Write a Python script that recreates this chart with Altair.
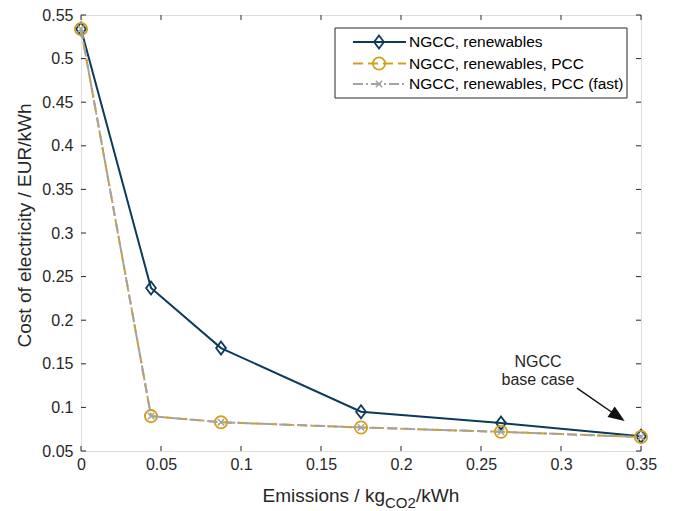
import altair as alt
import pandas as pd

# ---- data ----
emissions = [0.0, 0.04375, 0.0875, 0.175, 0.2625, 0.35]
cost_ren = [0.534, 0.237, 0.168, 0.095, 0.082, 0.067]
cost_pcc = [0.534, 0.090, 0.083, 0.077, 0.072, 0.066]
cost_fast = [0.534, 0.090, 0.083, 0.077, 0.072, 0.066]
series_names = ["NGCC, renewables", "NGCC, renewables, PCC", "NGCC, renewables, PCC (fast)"]
x_ticks = [0, 0.05, 0.1, 0.15, 0.2, 0.25, 0.3, 0.35]
y_ticks = [0.05, 0.1, 0.15, 0.2, 0.25, 0.3, 0.35, 0.4, 0.45, 0.5, 0.55]
annot_text = ["NGCC", "base case"]
annot_x = [0.2856, 0.2856]
annot_y = [0.1521, 0.1314]
arrow_start = [0.31, 0.1222]
arrow_head = [0.3345, 0.0910]

W, H = 560, 436
FONT = "Liberation Sans"
AX = "#262626"
NAVY = "#0b3a5a"
GOLD = "#d0a01c"
GRAY = "#a3a3a3"

xs = alt.Scale(domain=[0, 0.35], nice=False, zero=False)
ys = alt.Scale(domain=[0.05, 0.55], nice=False, zero=False)
xaxis = alt.Axis(values=x_ticks, format="~g", ticks=False, domain=False, grid=False, labelFlush=False,
                 labelFontSize=16, labelColor=AX, labelPadding=5, labelFont=FONT, title=None)
yaxis = alt.Axis(values=y_ticks, format="~g", ticks=False, domain=False, grid=False, labelFlush=False,
                 labelFontSize=16, labelColor=AX, labelPadding=8, labelFont=FONT,
                 title="Cost of electricity / EUR/kWh", titleFontSize=19, titleFont=FONT,
                 titleFontWeight="normal", titleColor=AX, titleX=-57, titleY=210,
                 titleAngle=-90, titleBaseline="middle", titleAlign="center")


def X(f):
    return alt.X(f, type="quantitative", scale=xs, axis=xaxis)


def Y(f):
    return alt.Y(f, type="quantitative", scale=ys, axis=yaxis)


def sdf(vals):
    return pd.DataFrame({"x": emissions, "y": vals, "o": list(range(len(vals)))})


layers = []

# tick marks (inward, all four sides)
ytk = pd.DataFrame({"y": y_ticks})
xtk = pd.DataFrame({"x": x_ticks})
layers.append(alt.Chart(ytk).mark_rule(color=AX, strokeWidth=1).encode(y=Y("y"), x=alt.value(0), x2=alt.value(5)))
layers.append(alt.Chart(ytk).mark_rule(color=AX, strokeWidth=1).encode(y=Y("y"), x=alt.value(W - 5), x2=alt.value(W)))
layers.append(alt.Chart(xtk).mark_rule(color=AX, strokeWidth=1).encode(x=X("x"), y=alt.value(H - 5), y2=alt.value(H)))
layers.append(alt.Chart(xtk).mark_rule(color=AX, strokeWidth=1).encode(x=X("x"), y=alt.value(0), y2=alt.value(5)))

# series
d1, d2, d3 = sdf(cost_ren), sdf(cost_pcc), sdf(cost_fast)
cross = "M-1,-1L1,1M-1,1L1,-1"
diamond = "M0,-1L0.75,0L0,1L-0.75,0Z"

layers.append(alt.Chart(d1).mark_line(color=NAVY, strokeWidth=2).encode(x=X("x"), y=Y("y"), order="o"))
layers.append(alt.Chart(d1).mark_point(shape=diamond, filled=False, color=NAVY, strokeWidth=1.8, size=170, opacity=1)
              .encode(x=X("x"), y=Y("y")))
layers.append(alt.Chart(d2).mark_line(color=GOLD, strokeWidth=2, strokeDash=[10, 5]).encode(x=X("x"), y=Y("y"), order="o"))
layers.append(alt.Chart(d2).mark_point(shape="circle", filled=False, color=GOLD, strokeWidth=1.8, size=150, opacity=1)
              .encode(x=X("x"), y=Y("y")))
layers.append(alt.Chart(d3).mark_line(color=GRAY, strokeWidth=2, strokeDash=[10, 3, 2, 3]).encode(x=X("x"), y=Y("y"), order="o"))
layers.append(alt.Chart(d3).mark_point(shape=cross, filled=False, color=GRAY, strokeWidth=1.5, size=40, opacity=1)
              .encode(x=X("x"), y=Y("y")))

# annotation
one = pd.DataFrame({"a": [0]})
for t, ax_, ay_ in zip(annot_text, annot_x, annot_y):
    adf = pd.DataFrame({"x": [ax_], "y": [ay_]})
    layers.append(alt.Chart(adf).mark_text(text=t, font=FONT, fontSize=16, color=AX,
                                           align="center", baseline="middle").encode(x=X("x"), y=Y("y")))
ardf = pd.DataFrame({"x": [arrow_start[0]], "y": [arrow_start[1]], "x2": [arrow_head[0]], "y2": [arrow_head[1]]})
layers.append(alt.Chart(ardf).mark_rule(color="#111111", strokeWidth=1.5).encode(
    x=X("x"), y=Y("y"), x2="x2", y2="y2"))
hdf = pd.DataFrame({"x": [arrow_head[0]], "y": [arrow_head[1]]})
layers.append(alt.Chart(hdf).mark_point(shape="M1,0L-0.6,-0.62L-0.6,0.62Z", filled=True, color="#111111",
                                        size=420, angle=34.5, opacity=1).encode(x=X("x"), y=Y("y")))

# legend box
LX0, LX1, LY0, LY1 = 254, 546, 13, 83
layers.append(alt.Chart(one).mark_rect(fill="white", stroke=AX, strokeWidth=1).encode(
    x=alt.value(LX0), x2=alt.value(LX1), y=alt.value(LY0), y2=alt.value(LY1)))
rows = [27, 48.5, 69]
styles = [
    dict(color=NAVY, dash=[1, 0], shape=diamond, size=170, sw=1.8),
    dict(color=GOLD, dash=[10, 5], shape="circle", size=150, sw=1.8),
    dict(color=GRAY, dash=[10, 3, 2, 3], shape=cross, size=40, sw=1.5),
]
for name, ry, st in zip(series_names, rows, styles):
    layers.append(alt.Chart(one).mark_rule(color=st["color"], strokeWidth=2, strokeDash=st["dash"]).encode(
        x=alt.value(272), x2=alt.value(325), y=alt.value(ry)))
    layers.append(alt.Chart(one).mark_point(shape=st["shape"], filled=False, color=st["color"],
                                            strokeWidth=st["sw"], size=st["size"], opacity=1).encode(
        x=alt.value(298), y=alt.value(ry)))
    layers.append(alt.Chart(one).mark_text(text=name, font=FONT, fontSize=15.5, color="#000000",
                                           align="left", baseline="middle").encode(
        x=alt.value(328), y=alt.value(ry)))

# x-axis title with subscript
TY = 487
layers.append(alt.Chart(one).mark_text(text="Emissions / kg", font=FONT, fontSize=19, color=AX,
                                       align="right", baseline="alphabetic").encode(x=alt.value(304), y=alt.value(TY)))
layers.append(alt.Chart(one).mark_text(text="CO2", font=FONT, fontSize=15, color=AX,
                                       align="left", baseline="alphabetic").encode(x=alt.value(304), y=alt.value(TY + 6)))
layers.append(alt.Chart(one).mark_text(text="/kWh", font=FONT, fontSize=19, color=AX,
                                       align="left", baseline="alphabetic").encode(x=alt.value(335), y=alt.value(TY)))

chart = alt.layer(*layers).properties(
    width=W, height=H,
    autosize=alt.AutoSizeParams(type="none"),
    padding={"left": 73, "top": 7, "right": 20, "bottom": 62},
).configure_view(stroke=AX, strokeWidth=1).configure(background="white")

chart.save("out.html", embed_options={"renderer": "svg", "actions": False})
